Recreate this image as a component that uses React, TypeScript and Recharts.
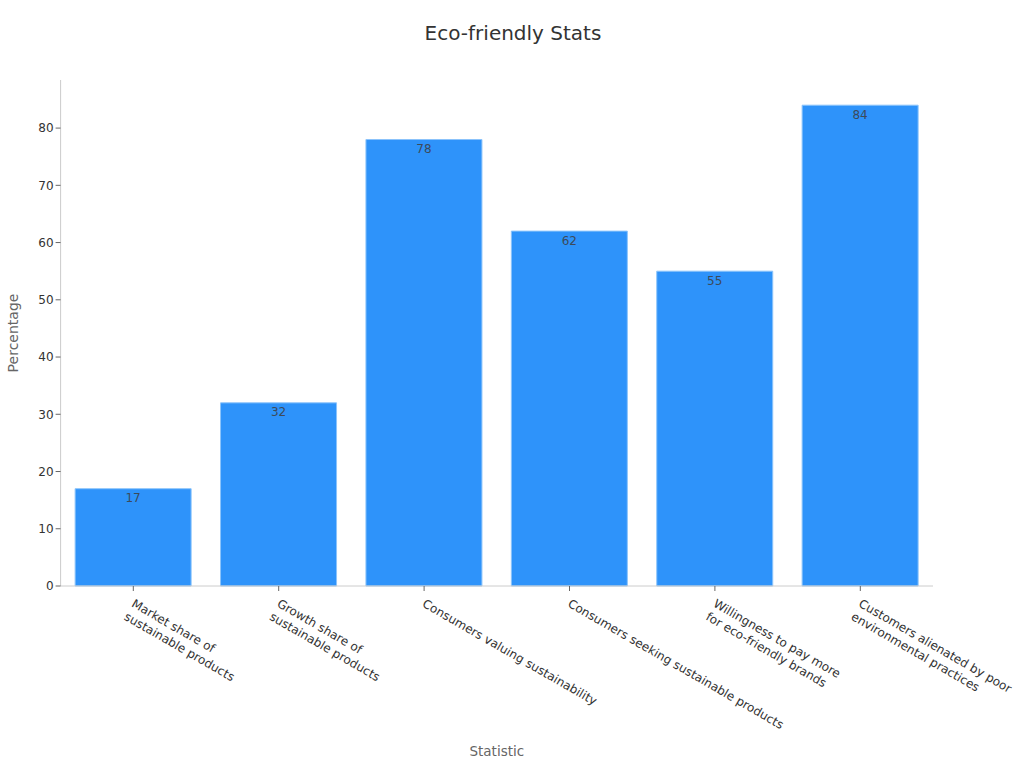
import { BarChart, Bar, XAxis, YAxis, LabelList } from 'recharts';

const categories = [
  'Market share of\nsustainable products',
  'Growth share of\nsustainable products',
  'Consumers valuing sustainability',
  'Consumers seeking sustainable products',
  'Willingness to pay more\nfor eco-friendly brands',
  'Customers alienated by poor\nenvironmental practices',
];
const values = [17, 32, 78, 62, 55, 84];
const yTicks = [0, 10, 20, 30, 40, 50, 60, 70, 80];

const data = categories.map((name, i) => ({ name, value: values[i] }));

const FONT = '"DejaVu Sans", sans-serif';

const RotatedTick = ({ x, y, payload }: any) => {
  const lines = String(payload.value).split('\n');
  return (
    <g transform={`translate(${x + 4.5},${y + 1}) rotate(30)`}>
      <text x={0} y={0} textAnchor="start" fontSize={12} fontFamily={FONT} fill="#333">
        {lines.map((line, i) => (
          <tspan key={i} x={0} dy={i === 0 ? 14 : 15}>
            {line}
          </tspan>
        ))}
      </text>
    </g>
  );
};

export default function App() {
  return (
    <div style={{ position: 'absolute', left: 0, top: 0, width: 1024, height: 768, background: '#fff' }}>
      <div
        style={{
          position: 'absolute',
          left: 1,
          top: 21,
          width: 1024,
          textAlign: 'center',
          fontFamily: FONT,
          fontSize: 20,
          color: '#333',
        }}
      >
        Eco-friendly Stats
      </div>
      <BarChart
        width={1024}
        height={768}
        data={data}
        barCategoryGap="10%"
        margin={{ top: 80, right: 91, bottom: 0, left: 0 }}
      >
        <XAxis
          dataKey="name"
          interval={0}
          height={182}
          tick={<RotatedTick />}
          tickSize={5}
          axisLine={{ stroke: '#ccc' }}
          tickLine={{ stroke: '#666' }}
          label={{
            value: 'Statistic',
            position: 'insideBottom',
            offset: 12,
            fontFamily: FONT,
            fontSize: 13.5,
            fill: '#666',
          }}
        />
        <YAxis
          width={60.6}
          domain={[0, 88.4]}
          ticks={yTicks}
          tickSize={5}
          tick={{ fontFamily: FONT, fontSize: 12, fill: '#333' }}
          axisLine={{ stroke: '#ccc' }}
          tickLine={{ stroke: '#666' }}
          label={{
            value: 'Percentage',
            angle: -90,
            position: 'insideLeft',
            offset: 13,
            style: { textAnchor: 'middle' },
            fontFamily: FONT,
            fontSize: 14,
            fill: '#666',
          }}
        />
        <Bar dataKey="value" fill="#2e93fa" stroke="#8cc4fb" strokeWidth={1} isAnimationActive={false}>
          <LabelList dataKey="value" position="insideTop" fontFamily={FONT} fontSize={12} fill="#3c4a5a" />
        </Bar>
      </BarChart>
    </div>
  );
}
